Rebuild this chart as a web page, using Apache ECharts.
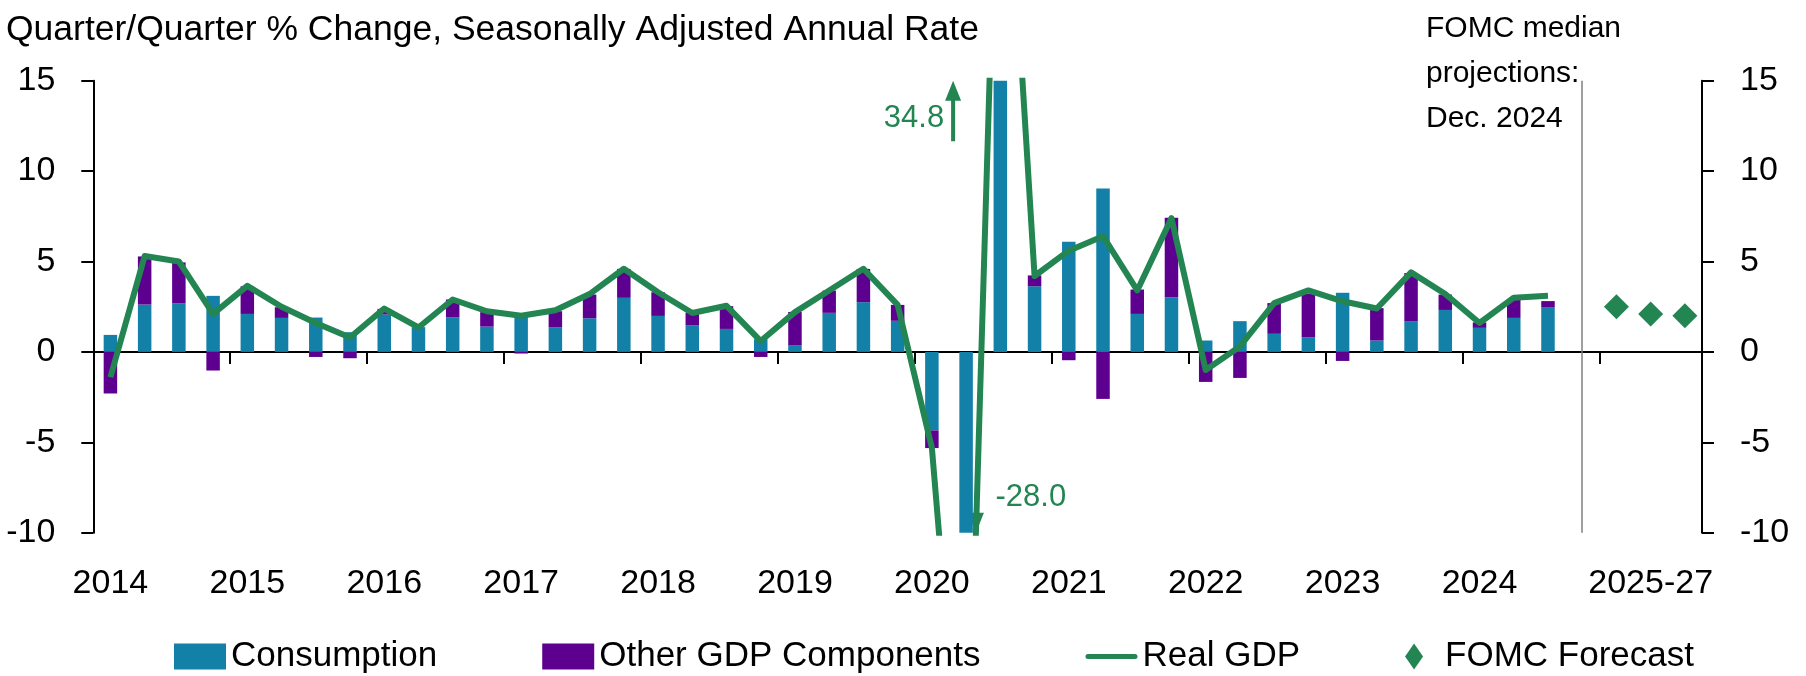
<!DOCTYPE html>
<html>
<head>
<meta charset="utf-8">
<script src="https://cdn.jsdelivr.net/npm/echarts@6/dist/echarts.min.js"></script>
<style>
html,body{margin:0;padding:0;background:#fff;}
#chart{width:1806px;height:676px;}
</style>
</head>
<body>
<div id="chart"></div>
<script>
// ---- data ----
const years = ['2014','2015','2016','2017','2018','2019','2020','2021','2022','2023','2024'];
const forecastYears = ['2025','2026','2027'];
const forecastTickLabel = '2025-27';
const yTicks = [-10, -5, 0, 5, 10, 15];

// contributions to real GDP growth, 2014Q1 .. 2024Q3
const consumption = [0.94,2.62,2.68,3.10, 2.10,1.88,1.90,1.09, 2.07,1.37,1.92,1.40,
  1.97,1.35,1.86,2.99, 1.99,1.46,1.27,0.70, 0.35,2.16,2.75,1.72,
  -4.34,-24.3,25.4,3.63, 6.09,9.04,2.10,3.03, 0.63,1.70,1.00,0.81,
  3.27,0.63,1.68,2.32, 1.33,1.88,2.48];
const otherGDP = [-2.30,2.66,2.27,-1.03, 1.53,0.59,-0.28,-0.35, 0.31,0.00,0.98,0.80,
  -0.09,0.90,1.31,1.60, 1.31,0.70,1.26,-0.28, 1.86,1.23,1.84,0.88,
  -0.98,-3.7,9.4,0.60, -0.46,-2.60,1.35,4.39, -1.66,-1.44,1.70,2.40,
  -0.50,1.79,2.68,0.85, 0.30,1.03,0.33];
const realGDP = [-1.4,5.3,5.0,2.1, 3.65,2.5,1.6,0.8, 2.4,1.35,2.9,2.25,
  2.0,2.3,3.2,4.6, 3.3,2.15,2.55,0.6, 2.2,3.4,4.6,2.6,
  -5.3,-28.0,34.8,4.2, 5.6,6.4,3.4,7.4, -1.0,0.3,2.7,3.4,
  2.8,2.4,4.4,3.2, 1.6,3.0,3.1];
const fomcForecast = [2.5, 2.1, 2.0];

// ---- build categories ----
const categories = [];
years.forEach(y => { for (let q = 1; q <= 4; q++) categories.push(y + 'Q' + q); });
const nQuarters = categories.length; // 44 (incl. 2024Q4 with no data yet)
forecastYears.forEach(y => categories.push(y));
const pad = (arr) => categories.map((c, i) => (i < arr.length ? arr[i] : null));
const forecastData = forecastYears.map((y, i) => [y, fomcForecast[i]]);

const FONT = "'Liberation Sans',Arial,sans-serif";
const TEAL = '#1380A8', PURPLE = '#5E008F', GREEN = '#238551', GRAY = '#7F7F7F';

const chart = echarts.init(document.getElementById('chart'), null, {renderer: 'canvas'});

const yAxisCommon = {
  type: 'value', min: -10, max: 15, interval: 5,
  axisLine: {show: true, lineStyle: {color: '#000', width: 2}},
  axisTick: {show: true, inside: false, length: 12, lineStyle: {color: '#000', width: 2}},
  splitLine: {show: false},
  axisLabel: {fontSize: 34, fontFamily: FONT, color: '#000', margin: 38}
};

chart.setOption({
  animation: false,
  backgroundColor: '#fff',
  textStyle: {fontFamily: FONT},
  title: [
    {text: 'Quarter/Quarter % Change, Seasonally Adjusted Annual Rate', left: 1, top: 7,
     textStyle: {fontSize: 35.5, fontWeight: 'normal', color: '#000', fontFamily: FONT}},
    {text: 'FOMC median\nprojections:\nDec. 2024', left: 1421, top: 1,
     textStyle: {fontSize: 30, fontWeight: 'normal', color: '#000', fontFamily: FONT, lineHeight: 45}}
  ],
  grid: {left: 93.3, right: 104, top: 80.7, bottom: 143.3, containLabel: false},
  legend: {
    left: 169, top: 634, itemGap: 105, itemWidth: 52, itemHeight: 26,
    symbolKeepAspect: true,
    textStyle: {fontSize: 35, fontFamily: FONT, color: '#000'},
    data: [
      {name: 'Consumption', icon: 'rect'},
      {name: 'Other GDP Components', icon: 'rect'},
      {name: 'Real GDP', icon: 'path://M2.5,0 L49.5,0 A2.5,2.5 0 0 1 49.5,5 L2.5,5 A2.5,2.5 0 0 1 2.5,0 Z'},
      {name: 'FOMC Forecast', icon: 'path://M9,0 L18,13 L9,26 L0,13 Z'}
    ]
  },
  xAxis: {
    type: 'category', data: categories, boundaryGap: true,
    axisLine: {show: true, onZero: true, lineStyle: {color: '#000', width: 2}},
    axisTick: {show: true, length: 12, lineStyle: {color: '#000', width: 2},
      interval: (i) => i > 0 && i <= nQuarters && i % 4 === 0},
    axisLabel: {
      fontSize: 34, fontFamily: FONT, color: '#000', margin: 34,
      interval: (i) => (i < nQuarters && i % 4 === 0) || i === nQuarters + 1,
      formatter: (v, i) => (i < nQuarters ? v.slice(0, 4) : forecastTickLabel)
    },
    splitLine: {show: false}
  },
  yAxis: [
    Object.assign({position: 'left'}, yAxisCommon),
    Object.assign({position: 'right'}, yAxisCommon)
  ],
  series: [
    {name: 'Consumption', type: 'bar', stack: 'gdp', data: pad(consumption), barWidth: 13.5,
     itemStyle: {color: TEAL}, clip: true,
     markLine: {silent: true, symbol: ['none', 'none'], label: {show: false},
       lineStyle: {color: GRAY, width: 1.5, type: 'solid'},
       data: [{xAxis: categories[nQuarters - 1]}]}},
    {name: 'Other GDP Components', type: 'bar', stack: 'gdp', data: pad(otherGDP), barWidth: 13.5,
     itemStyle: {color: PURPLE}, clip: true},
    {name: 'Real GDP', type: 'line', data: pad(realGDP), symbol: 'none', connectNulls: false,
     lineStyle: {color: GREEN, width: 6, join: 'round'}, itemStyle: {color: GREEN}, clip: true, z: 5},
    {name: 'FOMC Forecast', type: 'scatter', data: forecastData, symbol: 'diamond', symbolSize: 25,
     itemStyle: {color: GREEN, opacity: 1}, z: 6}
  ]
});

// ---- annotations for the off-scale 2020 quarters ----
function px(i, v) { return chart.convertToPixel({gridIndex: 0}, [i, v]); }
const iDown = realGDP.indexOf(Math.min(...realGDP));
const iUp = realGDP.indexOf(Math.max(...realGDP));
const x24 = px(iDown - 1, 0)[0], x25 = px(iDown, 0)[0], x26 = px(iUp, 0)[0];
const step = x25 - x24;
const upX = x24 + 0.62 * step;
const yTop = px(0, 15)[1];
const yShaftBottom = px(0, 11.65)[1];
const t = (-10 - realGDP[iDown]) / (realGDP[iUp] - realGDP[iDown]);
const downX = x25 + t * (x26 - x25);
const yBottom = px(0, -10)[1];
chart.setOption({
  graphic: [
    {type: 'line', shape: {x1: upX, y1: yShaftBottom, x2: upX, y2: yTop + 14}, style: {stroke: GREEN, lineWidth: 4}},
    {type: 'polygon', shape: {points: [[upX - 8, yTop + 20], [upX + 8, yTop + 20], [upX, yTop]]}, style: {fill: GREEN}},
    {type: 'text', x: x24 + 0.36 * step, y: px(0, 12.9)[1],
     style: {text: realGDP[iUp].toFixed(1), fill: GREEN, fontSize: 31, fontFamily: FONT, align: 'right', verticalAlign: 'middle'}},
    {type: 'polygon', shape: {points: [[downX - 8, yBottom - 20], [downX + 8, yBottom - 20], [downX, yBottom]]}, style: {fill: GREEN}},
    {type: 'text', x: x25 + 0.86 * (x26 - x25), y: px(0, -8.05)[1],
     style: {text: realGDP[iDown].toFixed(1), fill: GREEN, fontSize: 31, fontFamily: FONT, align: 'left', verticalAlign: 'middle'}}
  ]
});
</script>
</body>
</html>
